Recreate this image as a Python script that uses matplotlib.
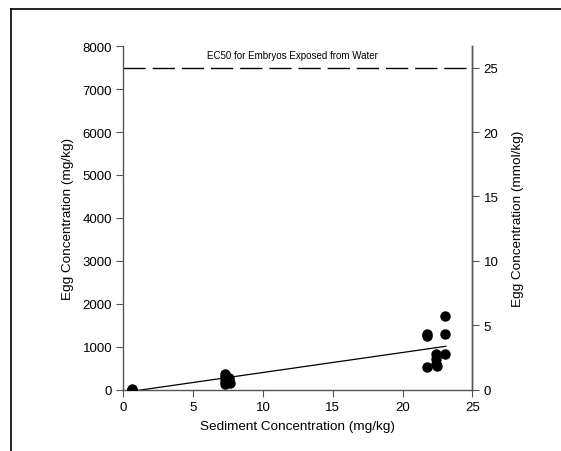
import numpy as np
import matplotlib.pyplot as plt
from matplotlib.lines import Line2D

plt.rcParams["font.family"] = ["Liberation Sans", "DejaVu Sans"]

# sediment conc (mg/kg) vs egg conc (mg/kg)
sed = [0.6, 0.6, 0.6,
       7.25, 7.3, 7.25, 7.3, 7.6, 7.6, 7.65,
       21.75, 21.75, 21.75,
       22.4, 22.4, 22.4, 22.45,
       23.05, 23.05, 23.05]
egg = [10, 30, 0,
       370, 300, 200, 150, 280, 200, 160,
       1310, 1250, 545,
       840, 720, 600, 565,
       1710, 1310, 830]

fit_x = [0.6, 23.1]
fit_y = [-30, 1016]

ec50 = 7500
mw = 300.0  # mg/mmol, right axis = left / mw

fig = plt.figure(figsize=(5.61, 4.52), dpi=100)
ax = fig.add_axes([0.22, 0.135, 0.622, 0.761])

ax.plot(sed, egg, "o", color="black", markersize=6.5, zorder=3)
ax.plot(fit_x, fit_y, color="black", lw=0.9)
ax.plot([0, 25], [ec50, ec50], color="black", lw=1.0, dashes=(16, 5))
ax.text(12.1, 7780, "EC50 for Embryos Exposed from Water", fontsize=7,
        ha="center", va="center")

ax.set_xlim(0, 25)
ax.set_ylim(0, 8000)
ax.set_xticks([0, 5, 10, 15, 20, 25])
ax.set_yticks(range(0, 8001, 1000))
ax.set_xlabel("Sediment Concentration (mg/kg)", fontsize=9.7, labelpad=5)
ax.set_ylabel("Egg Concentration (mg/kg)", fontsize=9.7, labelpad=6)

ax2 = ax.twinx()
ax2.set_ylim(0, 8000 / mw)
ax2.set_yticks([0, 5, 10, 15, 20, 25])
ax2.set_ylabel("Egg Concentration (mmol/kg)", fontsize=9.7, labelpad=10)

for a in (ax, ax2):
    a.spines["top"].set_visible(False)
    for s in a.spines.values():
        s.set_color("#555555")
        s.set_linewidth(1.0)
    a.tick_params(direction="out", length=5, width=0.8, color="#555555",
                  labelsize=9.5, pad=3)
ax2.spines["left"].set_visible(False)
ax2.spines["bottom"].set_visible(False)

# page frame (top and left edges)
fig.add_artist(Line2D([0.019, 1.0], [0.978, 0.978], color="black", lw=1.2))
fig.add_artist(Line2D([0.019, 0.019], [0.0, 0.978], color="black", lw=1.2))

fig.savefig("out.png", dpi=100)
